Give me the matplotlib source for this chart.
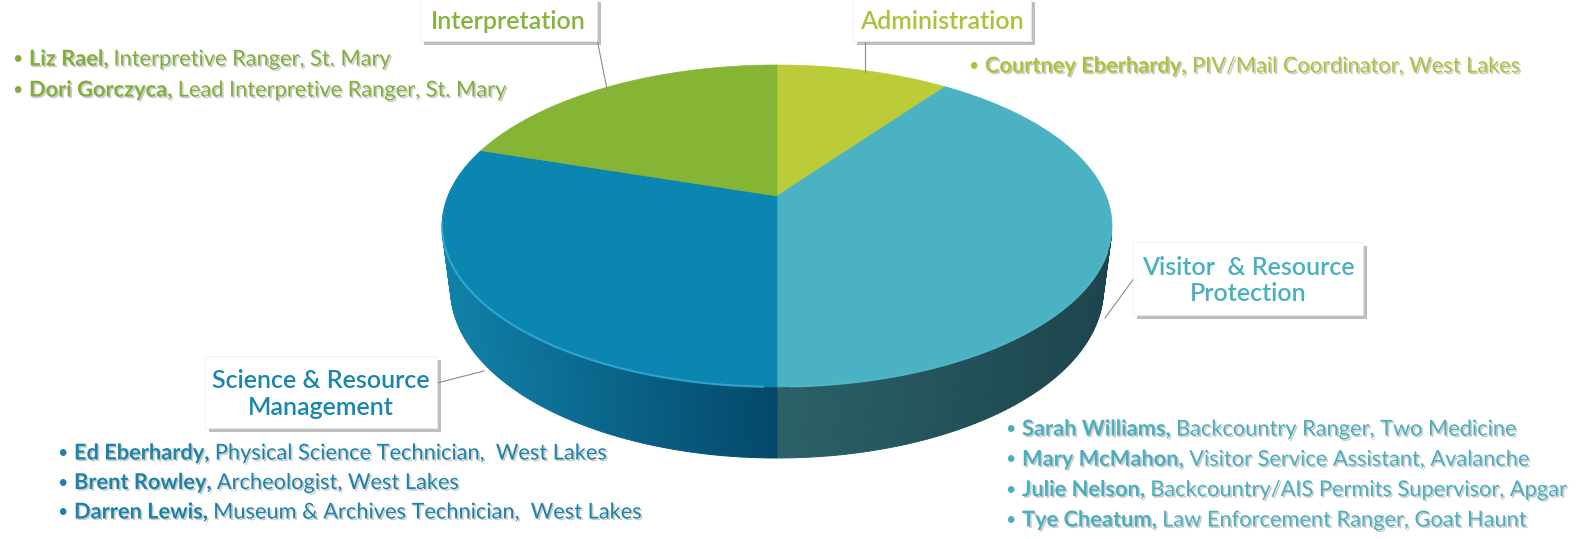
import matplotlib
matplotlib.use("Agg")
import matplotlib.pyplot as plt
import matplotlib.patheffects as pe
from matplotlib.patches import Polygon, Rectangle
import numpy as np

# slices, clockwise from 12 o'clock (number of staff in each group)
groups = ["Administration", "Visitor & Resource Protection",
          "Science & Resource Management", "Interpretation"]
staff_counts = [1, 4, 3, 2]
top_colors = ["#BBCC38", "#4AB2C2", "#0A86B0", "#86B434"]
# side wall colours at the left / right end of each slice's wall
side_left = ["#9DB02E", "#2B6169", "#1180A8", "#6E9A2A"]
side_right = ["#8C9E28", "#1D454D", "#03486A", "#5E8424"]

label_text = ["Administration", "Visitor  & Resource\nProtection",
              "Science & Resource\nManagement", "Interpretation"]
label_colors = ["#A9C43B", "#4AAFC0", "#1A86AE", "#86B23D"]

staff = [
    [("Courtney Eberhardy,", " PIV/Mail Coordinator, West Lakes")],
    [("Sarah Williams,", " Backcountry Ranger, Two Medicine"),
     ("Mary McMahon,", " Visitor Service Assistant, Avalanche"),
     ("Julie Nelson,", " Backcountry/AIS Permits Supervisor, Apgar"),
     ("Tye Cheatum,", " Law Enforcement Ranger, Goat Haunt")],
    [("Ed Eberhardy,", " Physical Science Technician,  West Lakes"),
     ("Brent Rowley,", " Archeologist, West Lakes"),
     ("Darren Lewis,", " Museum & Archives Technician,  West Lakes")],
    [("Liz Rael,", " Interpretive Ranger, St. Mary"),
     ("Dori Gorczyca,", " Lead Interpretive Ranger, St. Mary")],
]
staff_colors = ["#A8C43C", "#4AAEBF", "#1B82A8", "#7FAF3A"]

plt.rcParams['font.family'] = ['Lato', 'DejaVu Sans']

fig = plt.figure(figsize=(15.83, 5.39), dpi=100)
ax = fig.add_axes([0, 0, 1, 1])
ax.set_xlim(0, 1583)
ax.set_ylim(539, 0)
ax.axis('off')

# ---- perspective view of a flat cylinder (pixel layout) ----
alpha = np.radians(30)
s, c = np.sin(alpha), np.cos(alpha)
D = 5.376 * c
cx, apex_y = 777, 196
top_px, bottom_px, half_w = 65, 458, 335


def raw(phi, z):
    t = np.radians(phi)
    X, Y = np.cos(t), np.sin(t)
    dep = D + Y * c - z * s
    return X / dep, (Y * s + z * c) / dep


ky = (apex_y - top_px) / raw(90, 0)[1]
kx = half_w / max(raw(p, 0)[0] for p in np.linspace(-40, 40, 401))
r = (bottom_px - apex_y) / ky
h = (r * (D - c) - s) / (c - r * s)


def pt(phi, z=0.0):
    u, v = raw(phi, z)
    return cx + kx * u, apex_y - ky * v


def mix(c1, c2, f):
    a = np.array(matplotlib.colors.to_rgb(c1))
    b = np.array(matplotlib.colors.to_rgb(c2))
    return tuple(a + (b - a) * f)


fracs = np.array(staff_counts) / sum(staff_counts)
ends = 90 - 360 * np.cumsum(fracs)
starts = np.concatenate([[90], ends[:-1]])

# visible part of the wall
vis = np.degrees(np.arcsin(1 / (D * c)))
vis_lo, vis_hi = -180 + vis - 1, -vis + 1

for i in range(len(groups)):
    lo, hi = ends[i], starts[i]
    for shift in (0, -360, 360):
        a0, a1 = max(lo + shift, vis_lo), min(hi + shift, vis_hi)
        if a1 <= a0:
            continue
        n = 90
        th = np.linspace(a0, a1, n + 1)
        x_lo, x_hi = pt(max(lo + shift, -180))[0], pt(min(hi + shift, 0))[0]
        for k in range(n):
            p1, p2 = pt(th[k]), pt(th[k + 1])
            p3, p4 = pt(th[k + 1], -h), pt(th[k], -h)
            f = np.clip((0.5 * (p1[0] + p2[0]) - x_lo) / (x_hi - x_lo), 0, 1)
            col = mix(side_left[i], side_right[i], f)
            ax.add_patch(Polygon([p1, p2, p3, p4], closed=True,
                                 facecolor=col, edgecolor=col, lw=0.7))

# top faces
for i in range(len(groups)):
    th = np.linspace(starts[i], ends[i], 200)
    pts = [(cx, apex_y)] + [pt(t) for t in th]
    ax.add_patch(Polygon(pts, closed=True, facecolor=top_colors[i],
                         edgecolor=top_colors[i], lw=0.5))

# rim highlight on the front edge
th = np.linspace(-92, -170, 100)
xs, ys = zip(*[pt(t) for t in th])
ax.plot(xs, ys, color="#3AAEDB", lw=1.5, alpha=0.8)
th = np.linspace(-20, -88, 100)
xs, ys = zip(*[pt(t) for t in th])
ax.plot(xs, ys, color="#5CC0CE", lw=1.2, alpha=0.6)

box_shadow = [pe.SimplePatchShadow(offset=(3, -3), shadow_rgbFace="#8A8A8A", alpha=0.55),
              pe.Normal()]

# label boxes: (x0, y0, w, h)
boxes = [
    (853, -2, 178, 43),
    (1133, 242, 230, 73),
    (205, 356, 232, 72),
    (420, -2, 177, 43),
]
leaders = [
    [(865, 41), (865, 72)],
    [(1143, 266), (1105, 318)],
    [(437, 383), (484, 371)],
    [(596, 34), (607, 89)],
]
for i in range(len(groups)):
    x0, y0, w, hh = boxes[i]
    rect = Rectangle((x0, y0), w, hh, facecolor="white", edgecolor="#EDEDED",
                     lw=0.5, zorder=3)
    rect.set_path_effects(box_shadow)
    ax.add_patch(rect)
    ax.text(x0 + w / 2, y0 + hh / 2 + 2, label_text[i], ha='center', va='center',
            fontsize=18, fontweight='semibold', color=label_colors[i],
            linespacing=1.2, zorder=4)
    lx, ly = zip(*leaders[i])
    ax.plot(lx, ly, color="#8C8C8C", lw=0.8, zorder=2)

# staff lists: (bullet x, first line y, line step)
lists = [
    (968, 66, 30),
    (1005, 429, 30.3),
    (57, 453, 29.5),
    (12, 59, 31),
]
for i in range(len(groups)):
    bx, y0, step = lists[i]
    for j, (name, rest) in enumerate(staff[i]):
        y = y0 + j * step
        ax.text(bx, y, "\u2022", ha='left', va='center', fontsize=13,
                color=staff_colors[i], zorder=5)
        t1 = ax.text(bx + 17, y, name, ha='left', va='center', fontsize=15.7,
                     fontweight='bold', color=staff_colors[i], zorder=5,
                     path_effects=[pe.withSimplePatchShadow(offset=(1.2, -1.2),
                                   shadow_rgbFace="#9A9A9A", alpha=0.5)])
        ax.annotate(rest, xy=(1, 0), xycoords=t1, ha='left', va='bottom',
                    fontsize=15.7, color=staff_colors[i], zorder=5,
                    path_effects=[pe.withSimplePatchShadow(offset=(1.2, -1.2),
                                  shadow_rgbFace="#9A9A9A", alpha=0.5)])

fig.savefig("out.png", dpi=100, facecolor="white")
